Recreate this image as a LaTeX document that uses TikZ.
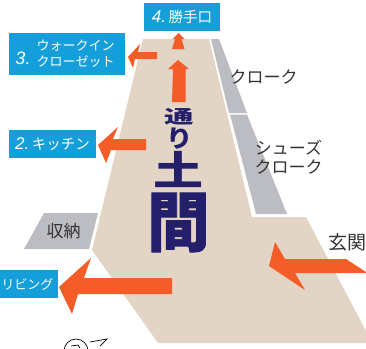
\documentclass[tikz,border=0pt]{standalone}
\usepackage{graphicx}
\usepackage{fontspec}
\setmainfont{Noto Sans CJK JP}
\newfontfamily\numfont{Liberation Sans}
\newfontfamily\heavyfont[FakeBold=1.2]{Noto Sans CJK JP Bold}
\definecolor{floorcol}{HTML}{E3D5C5}
\definecolor{roomgray}{HTML}{BBBDC2}
\definecolor{labelblue}{HTML}{149FDB}
\definecolor{arrowred}{HTML}{F55D28}
\definecolor{titlenavy}{HTML}{231F6B}
\definecolor{roomtext}{HTML}{333333}
\tikzset{
	bluebox/.style={fill=labelblue, text=white, inner sep=0pt, font=\fontsize{14.5}{16}\selectfont},
	bluetext/.style={text=white, inner sep=0pt, font=\fontsize{13}{16}\selectfont},
	roomlabel/.style={text=roomtext, inner sep=0pt, font=\fontsize{17}{19}\selectfont},
	roomshape/.style={fill=roomgray},
	flowarrow/.style={fill=arrowred},
	titlechar/.style={text=titlenavy, inner sep=0pt, font=\bfseries}
}

\begin{document}
\begin{tikzpicture}[x=1pt,y=-1pt]
	\path[use as bounding box,clip] (0,0) rectangle (366,348);
	% floor and rooms
	\fill[floorcol] (143,39) -- (209,39) -- (252,217) -- (306,217) -- (366,331) -- (366,343) -- (158,343) -- (92,250) -- cycle;
	\fill[roomshape] (211,39) -- (219,39) -- (247,113) -- (229,113) -- cycle;
	\fill[roomshape] (230,114.5) -- (247,114.5) -- (287,214) -- (256,214) -- cycle;
	\fill[roomshape] (44,213) -- (98,213) -- (89,249) -- (24,249) -- cycle;
	% arrows
	\fill[flowarrow] (178.5,33) -- (184.5,39) -- (181.5,39) -- (184.5,49) -- (172,49) -- (175,39) -- (172.5,39) -- cycle;
	\fill[flowarrow] (178,60) -- (189,69) -- (185.5,69) -- (185.5,102) -- (172,102) -- (173,69) -- (168,69) -- cycle;
	\fill[flowarrow] (128,57) -- (140,44) -- (138,52) -- (157,52) -- (157,59) -- (135,59) -- (133,68) -- cycle;
	\fill[flowarrow] (98,145) -- (118,127) -- (113,139) -- (146,139) -- (146,150) -- (111,150) -- (106,163) -- cycle;
	\fill[flowarrow] (59,287) -- (91,258) -- (84,278) -- (172,278) -- (172,294) -- (78,294) -- (72,314) -- cycle;
	\fill[flowarrow] (269,266) -- (275,242) -- (285,259) -- (346,259) -- (366,272) -- (366,273) -- (295,273) -- (305,290) -- cycle;
	% blue labels
	\node[bluebox, minimum width=76pt, minimum height=28pt] (backdoor) at (182,17) {{\numfont\itshape\fontsize{17}{17}\selectfont 4.}\,勝手口};
	\node[bluebox, minimum width=116pt, minimum height=42pt] (closet) at (67,54) {};
	\node[bluetext] (closetnum) at (23,58) {\numfont\itshape\fontsize{18}{18}\selectfont 3.};
	\node[bluetext, align=center] (closettext) at (75.5,54) {ウォークイン\\クローゼット};
	\node[bluebox, minimum width=87pt, minimum height=28pt] (kitchen) at (52.5,144) {{\numfont\itshape\fontsize{17}{17}\selectfont 2.}\,キッチン};
	\node[bluebox, minimum width=58pt, minimum height=28pt, font=\fontsize{13}{15}\selectfont] (living) at (29,284) {\hspace*{-3pt}リビング};
	% room labels
	\node[roomlabel] (cloak) at (263.5,77) {クローク};
	\node[roomlabel, align=center] (shoecloak) at (288.5,157) {シューズ\\クローク};
	\node[roomlabel] (storage) at (63.5,231) {収納};
	\node[roomlabel, font=\fontsize{19}{21}\selectfont] (entrance) at (347,242) {玄関};
	% title
	\node[titlechar] (titlea) at (179,117) {\fontsize{19}{19}\selectfont\bfseries\scalebox{1.55}[0.95]{通}};
	\node[titlechar] (titleb) at (179.5,139) {\fontsize{24}{24}\selectfont\bfseries\scalebox{1.1}[1]{り}};
	\node[titlechar] (titlec) at (178.5,169.5) {\fontsize{40}{40}\selectfont\bfseries\scalebox{1.25}[1]{土}};
	\node[titlechar] (titled) at (178.5,222.5) {\fontsize{50}{50}\selectfont\heavyfont\scalebox{1.25}[1.3]{間}};
	% cut off text at the bottom
	\draw[black, line width=0.7pt] (76,351) circle (12);
	\draw[black, line width=0.7pt] (71,346) -- (78,345) -- (80,348);
	\draw[black, line width=0.7pt] (90,342) -- (107,339) -- (100,346);
\end{tikzpicture}
\end{document}
